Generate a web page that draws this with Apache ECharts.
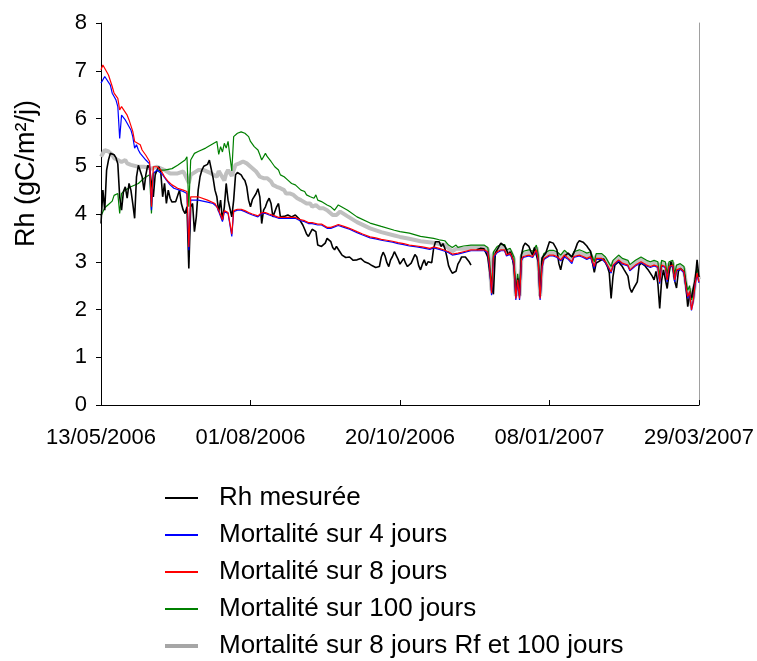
<!DOCTYPE html>
<html>
<head>
<meta charset="utf-8">
<script src="https://cdn.jsdelivr.net/npm/echarts@6/dist/echarts.min.js"></script>
<style>
html,body{margin:0;padding:0;background:#fff;}
#chart{width:757px;height:661px;}
</style>
</head>
<body>
<div id="chart"></div>
<script>
// x = days since 13/05/2006
const tickDays = [0, 80, 160, 240, 320];
const tickLabels = ['13/05/2006', '01/08/2006', '20/10/2006', '08/01/2007', '29/03/2007'];
const seriesNames = ['Rh mesurée', 'Mortalité sur 4 jours', 'Mortalité sur 8 jours', 'Mortalité sur 100 jours', 'Mortalité sur 8 jours Rf et 100 jours'];

// Rh mesurée, one value per day (day 0 .. 320)
const rhMesuree = [
  3.80, 4.50, 4.08, 4.92, 5.13, 5.27, 5.30, 5.24, 5.18, 5.05,
  4.36, 4.08, 4.47, 4.57, 4.33, 4.64, 4.50, 4.22, 3.91, 4.78,
  5.02, 5.06, 4.78, 4.50, 4.82, 5.02, 4.96, 4.64, 4.36, 4.82,
  4.92, 4.99, 4.87, 4.36, 4.64, 4.22, 4.50, 4.33, 4.25, 4.22,
  4.26, 4.29, 4.50, 4.22, 4.08, 4.01, 4.15, 2.86, 4.15, 4.22,
  3.63, 3.94, 4.50, 4.78, 4.92, 5.00, 5.00, 5.04, 5.13, 5.10,
  4.75, 4.50, 4.36, 4.05, 4.29, 3.87, 4.15, 4.64, 4.29, 4.33,
  3.94, 4.29, 4.82, 4.87, 4.85, 4.82, 4.75, 4.70, 4.57, 4.29,
  4.15, 4.30, 4.29, 4.43, 4.53, 4.36, 3.80, 4.08, 4.15, 4.26,
  4.33, 4.22, 3.94, 3.91, 4.15, 4.22, 3.94, 3.98, 3.95, 3.95,
  3.98, 3.95, 3.94, 3.97, 3.98, 3.95, 3.90, 3.87, 3.77, 3.68,
  3.58, 3.53, 3.53, 3.68, 3.70, 3.63, 3.35, 3.32, 3.32, 3.32,
  3.39, 3.49, 3.45, 3.42, 3.30, 3.25, 3.32, 3.35, 3.20, 3.14,
  3.11, 3.09, 3.07, 3.10, 3.11, 3.03, 3.00, 3.04, 3.05, 3.07,
  3.03, 3.00, 2.98, 2.97, 2.94, 2.92, 2.90, 2.88, 2.86, 2.90,
  3.10, 3.20, 3.12, 2.98, 2.90, 3.04, 3.11, 3.21, 3.17, 3.05,
  2.95, 2.98, 3.07, 2.97, 2.90, 2.86, 2.97, 3.06, 3.15, 3.10,
  2.92, 2.83, 2.95, 3.04, 2.92, 3.00, 3.04, 2.98, 3.28, 3.42,
  3.39, 3.42, 3.32, 3.38, 3.28, 3.12, 2.92, 2.83, 2.76, 2.72,
  2.80, 2.95, 3.02, 3.10, 3.14, 3.10, 3.07, 3.00, 2.93, null,
  null, 3.25, 3.26, 3.28, 3.28, 3.27, 3.25, 3.10, 2.80, 2.50,
  2.32, 3.18, 3.25, 3.32, 3.39, 3.37, 3.33, 3.25, 3.15, 3.21,
  3.10, 2.90, 2.30, 2.65, 2.30, 3.15, 3.32, 3.39, 3.36, 3.32,
  3.22, 3.14, 3.30, 3.14, 3.00, 2.27, 3.08, 3.12, 3.18, 3.30,
  3.42, 3.44, 3.39, 3.32, 3.25, 2.97, 2.83, 3.02, 3.12, 3.16,
  3.18, 3.21, 3.10, 3.18, 3.28, 3.39, 3.44, 3.43, 3.41, 3.37,
  3.33, 3.27, 3.22, 2.98, 2.78, 2.97, 3.00, 3.02, 3.04, 3.06,
  3.07, 2.90, 2.77, 2.23, 2.69, 2.93, 2.97, 3.00, 2.95, 2.90,
  2.83, 2.80, 2.70, 2.45, 2.36, 2.44, 2.48, 2.58, 2.92, 2.97,
  2.94, 2.92, 2.87, 2.82, 2.79, 2.70, 2.62, 2.80, 2.55, 2.02,
  2.60, 2.83, 2.79, 2.44, 2.75, 3.00, 2.88, 2.60, 2.45, 2.80,
  2.86, 2.84, 2.79, 2.50, 2.06, 2.30, 2.25, 2.45, 2.62, 3.04,
  2.68
];

// Mortalité sur 4 jours: [day, value]
const mort4 = [[0,6.74],[2,6.88],[3,6.91],[5,6.70],[6,6.53],[7,6.46],[8,6.39],[9,6.25],[10,5.58],[11,6.07],[13,5.97],[14,5.90],[16,5.76],[17,5.62],[18,5.38],[19,5.45],[20,5.34],[21,5.27],[22,5.23],[24,5.13],[26,5.05],[27,4.08],[28,4.85],[30,4.92],[31,4.92],[33,4.82],[35,4.71],[37,4.61],[39,4.54],[42,4.50],[44,4.47],[46,4.43],[47,3.24],[48,4.29],[52,4.29],[57,4.25],[60,4.22],[62,4.15],[63,4.05],[64,4.01],[65,3.84],[66,4.05],[68,4.01],[69,3.98],[70,3.53],[71,4.05],[73,4.08],[75,4.08],[77,4.05],[79,4.01],[81,3.98],[84,3.94],[86,4.01],[88,4.01],[90,3.98],[93,3.94],[95,3.91],[97,3.91],[98,3.94],[100,3.91],[104,3.91],[106,3.87],[107,3.84],[109,3.84],[111,3.80],[113,3.80],[114,3.84],[116,3.77],[118,3.77],[119,3.73],[121,3.70],[123,3.70],[125,3.73],[127,3.76],[130,3.72],[133,3.68],[137,3.61],[140,3.56],[144,3.50],[147,3.48],[150,3.45],[153,3.43],[156,3.41],[159,3.38],[162,3.36],[165,3.33],[169,3.31],[172,3.29],[176,3.26],[178,3.29],[181,3.26],[184,3.22],[186,3.19],[188,3.14],[189,3.12],[191,3.16],[194,3.19],[198,3.23],[201,3.23],[205,3.23],[207,3.19],[208,2.85],[209,2.30],[210,3.08],[212,3.19],[214,3.23],[216,3.23],[217,3.12],[219,3.16],[220,3.12],[221,2.96],[222,2.20],[223,2.58],[224,2.20],[225,3.02],[226,3.09],[227,3.12],[229,3.12],[231,3.09],[232,3.16],[233,3.23],[234,3.02],[235,2.20],[236,2.86],[237,3.05],[238,3.09],[240,3.12],[241,3.16],[242,3.12],[244,3.09],[246,3.02],[247,3.05],[248,3.10],[250,3.05],[251,3.09],[252,2.96],[253,3.09],[254,3.12],[256,3.12],[258,3.09],[260,3.05],[262,3.09],[264,2.86],[265,3.05],[266,3.09],[268,3.05],[270,2.98],[272,2.84],[273,2.76],[274,2.91],[277,3.02],[279,2.95],[282,2.91],[283,2.81],[284,2.80],[286,2.91],[289,2.98],[290,2.95],[292,2.91],[294,2.88],[296,2.91],[298,2.88],[299,2.54],[300,2.91],[302,2.88],[303,2.58],[304,2.88],[306,2.91],[307,2.58],[308,2.81],[310,2.84],[312,2.77],[313,2.45],[314,2.24],[315,2.36],[316,1.98],[317,2.18],[318,2.53],[319,2.74],[320,2.56]];

// Mortalité sur 8 jours: [day, value]
const mort8 = [[0,7.02],[1,7.12],[2,7.09],[4,6.91],[6,6.67],[7,6.53],[9,6.42],[10,6.18],[11,6.25],[12,6.22],[14,6.07],[15,5.97],[17,5.73],[18,5.52],[19,5.55],[21,5.45],[22,5.34],[24,5.23],[26,5.10],[27,4.15],[28,4.99],[30,4.99],[32,4.92],[34,4.78],[36,4.68],[38,4.61],[41,4.54],[44,4.50],[46,4.47],[47,3.31],[48,4.36],[52,4.36],[57,4.29],[61,4.22],[63,4.08],[64,4.04],[65,3.88],[66,4.07],[68,4.03],[69,4.00],[70,3.58],[71,4.07],[73,4.10],[75,4.10],[77,4.07],[79,4.03],[81,4.00],[84,3.96],[86,4.03],[88,4.03],[90,4.00],[93,3.96],[95,3.93],[97,3.93],[98,3.96],[100,3.93],[104,3.93],[106,3.89],[107,3.86],[109,3.86],[111,3.82],[113,3.82],[114,3.86],[116,3.79],[118,3.79],[119,3.75],[121,3.72],[123,3.72],[125,3.75],[127,3.78],[130,3.74],[133,3.70],[137,3.63],[140,3.58],[144,3.52],[147,3.50],[150,3.47],[153,3.45],[156,3.43],[159,3.40],[162,3.38],[165,3.35],[169,3.33],[172,3.31],[176,3.28],[178,3.31],[181,3.28],[184,3.24],[186,3.21],[188,3.16],[189,3.14],[191,3.18],[194,3.21],[198,3.25],[201,3.25],[205,3.25],[207,3.21],[208,2.90],[209,2.34],[210,3.11],[212,3.21],[214,3.25],[216,3.25],[217,3.14],[219,3.18],[220,3.14],[221,3.00],[222,2.23],[223,2.62],[224,2.23],[225,3.05],[226,3.11],[227,3.14],[229,3.14],[231,3.11],[232,3.18],[233,3.25],[234,3.04],[235,2.23],[236,2.90],[237,3.07],[238,3.11],[240,3.14],[241,3.18],[242,3.14],[244,3.11],[246,3.04],[247,3.07],[248,3.14],[250,3.07],[251,3.11],[252,3.00],[253,3.11],[254,3.14],[256,3.14],[258,3.11],[260,3.07],[262,3.11],[264,2.90],[265,3.07],[266,3.11],[268,3.07],[270,3.00],[272,2.86],[273,2.79],[274,2.93],[277,3.04],[279,2.97],[282,2.93],[283,2.83],[284,2.83],[286,2.93],[289,3.00],[290,2.97],[292,2.93],[294,2.90],[296,2.93],[298,2.90],[299,2.58],[300,2.93],[302,2.90],[303,2.62],[304,2.90],[306,2.93],[307,2.62],[308,2.83],[310,2.86],[312,2.79],[313,2.48],[314,2.27],[315,2.38],[316,1.99],[317,2.20],[318,2.55],[319,2.76],[320,2.58]];

// Mortalité sur 100 jours: [day, value]
const mort100 = [[0,3.96],[2,4.13],[4,4.20],[6,4.27],[7,4.39],[9,4.43],[10,4.01],[11,4.43],[13,4.50],[16,4.57],[20,4.64],[23,4.75],[26,4.82],[27,4.01],[28,4.85],[31,4.92],[34,4.92],[38,4.95],[41,5.02],[45,5.13],[46,5.20],[47,4.15],[48,5.13],[50,5.27],[52,5.31],[56,5.38],[59,5.45],[62,5.52],[63,5.25],[64,5.41],[65,5.30],[66,5.48],[67,5.38],[68,5.52],[70,4.90],[71,5.62],[73,5.69],[75,5.72],[77,5.69],[79,5.62],[80,5.52],[82,5.41],[84,5.34],[85,5.24],[86,5.13],[88,5.27],[89,5.20],[91,5.10],[93,4.99],[95,4.92],[96,4.82],[98,4.78],[100,4.71],[102,4.64],[104,4.61],[105,4.57],[107,4.50],[109,4.47],[110,4.40],[112,4.36],[114,4.33],[115,4.40],[116,4.29],[118,4.26],[119,4.22],[121,4.19],[123,4.15],[125,4.08],[127,4.19],[128,4.20],[132,4.08],[137,3.94],[144,3.81],[150,3.74],[157,3.66],[160,3.63],[165,3.60],[171,3.53],[178,3.49],[181,3.46],[184,3.44],[186,3.35],[188,3.30],[190,3.35],[191,3.30],[194,3.33],[198,3.35],[201,3.35],[205,3.35],[207,3.30],[208,3.00],[209,2.45],[210,3.20],[212,3.32],[214,3.36],[216,3.36],[217,3.25],[219,3.28],[220,3.24],[221,3.10],[222,2.35],[223,2.75],[224,2.35],[225,3.15],[226,3.22],[227,3.25],[229,3.25],[231,3.22],[232,3.28],[233,3.35],[234,3.15],[235,2.35],[236,3.00],[237,3.17],[238,3.21],[240,3.24],[241,3.28],[242,3.24],[244,3.21],[246,3.14],[247,3.17],[248,3.24],[250,3.17],[251,3.21],[252,3.10],[253,3.21],[254,3.24],[256,3.25],[258,3.22],[260,3.18],[262,3.21],[264,3.00],[265,3.17],[266,3.21],[268,3.17],[270,3.10],[272,2.96],[273,2.90],[274,3.03],[277,3.14],[279,3.07],[282,3.03],[283,2.94],[284,2.93],[286,3.03],[289,3.10],[290,3.07],[292,3.03],[294,3.00],[296,3.03],[298,3.00],[299,2.70],[300,3.03],[302,3.00],[303,2.74],[304,3.00],[306,3.03],[307,2.74],[308,2.93],[310,2.96],[312,2.90],[313,2.60],[314,2.40],[315,2.50],[316,2.20],[317,2.33],[318,2.65],[319,2.86],[320,2.68]];

// Mortalité sur 8 jours Rf et 100 jours: [day, value]
const mort8Rf100 = [[0,5.20],[2,5.34],[4,5.31],[6,5.24],[7,5.17],[9,5.13],[11,5.09],[13,5.13],[14,5.06],[16,5.03],[20,4.99],[23,4.99],[27,4.95],[30,4.99],[34,4.92],[37,4.85],[41,4.85],[44,4.89],[45,4.82],[47,4.65],[48,4.82],[52,4.92],[55,4.92],[59,4.85],[62,4.78],[63,4.90],[64,4.92],[66,4.70],[67,4.85],[68,4.92],[70,4.80],[72,5.03],[74,5.06],[76,5.10],[78,5.06],[79,5.03],[81,4.96],[83,4.89],[85,4.78],[87,4.75],[89,4.75],[91,4.68],[92,4.61],[94,4.57],[96,4.54],[98,4.50],[99,4.43],[101,4.43],[103,4.40],[105,4.33],[107,4.29],[108,4.26],[110,4.22],[112,4.22],[113,4.15],[115,4.19],[117,4.12],[119,4.12],[121,4.08],[122,4.05],[124,3.98],[126,3.98],[128,4.05],[132,3.95],[137,3.83],[144,3.70],[150,3.62],[157,3.55],[160,3.52],[165,3.48],[171,3.43],[178,3.40],[181,3.37],[184,3.35],[186,3.28],[188,3.22],[190,3.27],[191,3.25],[194,3.27],[198,3.30],[201,3.30],[205,3.30],[207,3.26],[208,2.95],[209,2.40],[210,3.15],[212,3.27],[214,3.30],[216,3.30],[217,3.20],[219,3.23],[220,3.19],[221,3.05],[222,2.28],[223,2.68],[224,2.28],[225,3.10],[226,3.16],[227,3.19],[229,3.19],[231,3.16],[232,3.23],[233,3.30],[234,3.09],[235,2.28],[236,2.95],[237,3.12],[238,3.16],[240,3.19],[241,3.23],[242,3.19],[244,3.16],[246,3.09],[247,3.12],[248,3.19],[250,3.12],[251,3.16],[252,3.05],[253,3.16],[254,3.19],[256,3.19],[258,3.16],[260,3.12],[262,3.16],[264,2.95],[265,3.12],[266,3.16],[268,3.12],[270,3.05],[272,2.91],[273,2.84],[274,2.98],[277,3.09],[279,3.02],[282,2.98],[283,2.88],[284,2.88],[286,2.98],[289,3.05],[290,3.02],[292,2.98],[294,2.95],[296,2.98],[298,2.95],[299,2.64],[300,2.98],[302,2.95],[303,2.68],[304,2.95],[306,2.98],[307,2.68],[308,2.88],[310,2.91],[312,2.85],[313,2.54],[314,2.33],[315,2.44],[316,2.08],[317,2.26],[318,2.60],[319,2.81],[320,2.63]];

const FONT = "'Liberation Sans', Arial, sans-serif";
const rhPairs = rhMesuree.map((v, i) => [i, v]);

const chart = echarts.init(document.getElementById('chart'), null, {renderer: 'canvas'});
chart.setOption({
  animation: false,
  backgroundColor: '#ffffff',
  textStyle: {fontFamily: FONT, color: '#000'},
  grid: {left: 101, right: 57, top: 23, bottom: 256, containLabel: false},
  xAxis: {
    type: 'value', min: 0, max: 320, interval: 80,
    axisLine: {show: true, onZero: false, lineStyle: {color: '#000', width: 1}},
    axisTick: {show: true, inside: true, length: 5, lineStyle: {color: '#000'}},
    splitLine: {show: false},
    axisLabel: {
      fontFamily: FONT, fontSize: 22, color: '#000', margin: 22,
      formatter: v => { const i = tickDays.indexOf(v); return i >= 0 ? tickLabels[i] : ''; }
    }
  },
  yAxis: [{
    type: 'value', min: 0, max: 8, interval: 1,
    axisLine: {show: true, lineStyle: {color: '#000', width: 1}},
    axisTick: {show: true, inside: false, length: 5, lineStyle: {color: '#000'}},
    splitLine: {show: false},
    axisLabel: {fontFamily: FONT, fontSize: 22, color: '#000', margin: 14}
  }, {
    type: 'value', min: 0, max: 8, position: 'right',
    axisLine: {show: true, lineStyle: {color: '#a0a0a0', width: 1}},
    axisTick: {show: false}, axisLabel: {show: false}, splitLine: {show: false}
  }],
  graphic: [{
    type: 'text', left: 13, top: 100, rotation: Math.PI / 2,
    style: {text: 'Rh (gC/m²/j)', font: '27px ' + FONT, fill: '#000'}
  }],
  legend: {
    orient: 'vertical', left: 163, top: 485, padding: 0,
    itemWidth: 33, itemHeight: 14, itemGap: 11,
    itemStyle: {opacity: 0},
    textStyle: {fontFamily: FONT, fontSize: 26, color: '#000', lineHeight: 26, padding: [0, 0, 0, 16]},
    data: [
      {name: seriesNames[0]}, {name: seriesNames[1]}, {name: seriesNames[2]}, {name: seriesNames[3]},
      {name: seriesNames[4], lineStyle: {color: '#a6a6a6', width: 4}}
    ]
  },
  series: [
    {name: seriesNames[4], type: 'line', data: mort8Rf100, symbol: 'none', lineStyle: {color: '#c0c0c0', width: 4}, itemStyle: {color: '#c0c0c0'}},
    {name: seriesNames[3], type: 'line', data: mort100, symbol: 'none', lineStyle: {color: '#008000', width: 1.2}, itemStyle: {color: '#008000'}},
    {name: seriesNames[0], type: 'line', data: rhPairs, symbol: 'none', connectNulls: false, lineStyle: {color: '#000000', width: 1.6}, itemStyle: {color: '#000000'}},
    {name: seriesNames[1], type: 'line', data: mort4, symbol: 'none', lineStyle: {color: '#0000ff', width: 1.2}, itemStyle: {color: '#0000ff'}},
    {name: seriesNames[2], type: 'line', data: mort8, symbol: 'none', lineStyle: {color: '#ff0000', width: 1.2}, itemStyle: {color: '#ff0000'}}
  ]
});
</script>
</body>
</html>
